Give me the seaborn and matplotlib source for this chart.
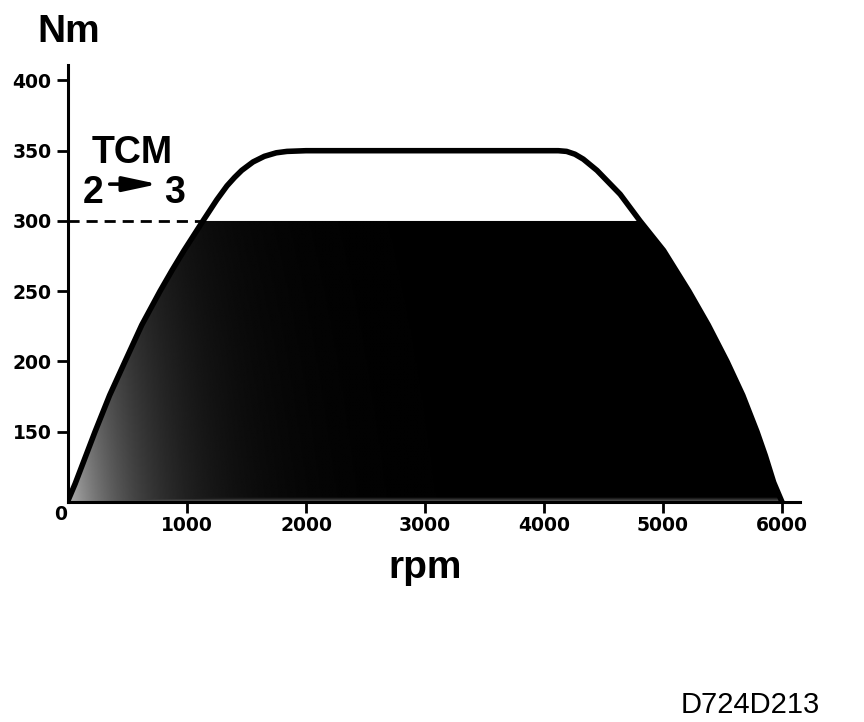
# Courbe de couple moteur (Nm / rpm) avec limitation TCM en 2e -> 3e

import numpy as np
import seaborn as sns
import matplotlib.pyplot as plt
from matplotlib.patches import FancyArrowPatch

# Valeurs
rpm = [0, 60, 227, 350, 479, 620, 773, 875, 975, 1134, 1250, 1336, 1400, 1460, 1555,
       1650, 1750, 1840, 2000, 3000, 4000, 4120, 4190, 4260, 4330, 4445, 4640, 4807,
       5005, 5218, 5380, 5538, 5670, 5790, 5860, 5930, 6000]
nm = [101, 113, 150, 176, 200, 226, 250, 265, 279, 300, 315, 325, 331, 336, 342,
      346, 348.5, 349.5, 350, 350, 350, 350, 349.5, 347.5, 344, 336, 319, 300,
      279, 250, 226, 200, 176, 150, 133, 114, 100]

tcm_limit = 300          # couple limite TCM (Nm)
tcm_limit_rpm = 1134     # régime où la courbe atteint la limite
x_ticks = [1000, 2000, 3000, 4000, 5000, 6000]
y_ticks = [150, 200, 250, 300, 350, 400]

sns.set_theme(style="white")
plt.rcParams['font.family'] = ['Liberation Sans', 'DejaVu Sans']
plt.rcParams['text.color'] = 'black'

fig = plt.figure(figsize=(8.64, 7.22), dpi=100)
ax = fig.add_axes([0.0787, 0.3047, 0.8472, 0.6053])

rpm_arr = np.array(rpm)
nm_arr = np.array(nm)
limited = np.minimum(nm_arr, tcm_limit)

# zone noire sous la limite
poly = ax.fill_between(rpm_arr, 100, limited, color='black', lw=0, zorder=1)

# trame grise : plus claire en bas à gauche et le long de l'axe
gx = np.linspace(0, 6000, 600)
gy = np.linspace(100, 300, 200)
GX, GY = np.meshgrid(gx, gy)
shade = 0.68 * np.exp(-GX / 600) * (1 - 0.5 * (GY - 100) / 200)
shade = np.maximum(shade, 0.35 * np.clip(1 - (GY - 100) / 3, 0, 1))
im = ax.imshow(shade, extent=(0, 6000, 100, 300), origin='lower', cmap='gray',
               vmin=0, vmax=1, aspect='auto', zorder=2, interpolation='bilinear')
im.set_clip_path(poly.get_paths()[0], transform=ax.transData)

# courbe de couple
sns.lineplot(x=rpm_arr, y=nm_arr, color='black', linewidth=4, ax=ax, zorder=4,
             solid_joinstyle='round', solid_capstyle='round')

# ligne de limitation en pointillés
ax.hlines(tcm_limit, 0, tcm_limit_rpm, colors='black', linestyles=(0, (4, 2.5)),
          linewidth=2, zorder=3)

ax.set_xlim(0, 6151)
ax.set_ylim(100, 411)
ax.set_xticks(x_ticks)
ax.set_yticks(y_ticks)
tick_font = dict(fontsize=13.5, fontweight='bold', family='DejaVu Sans', color='black')
ax.set_xticklabels([str(t) for t in x_ticks], **tick_font)
ax.set_yticklabels([str(t) for t in y_ticks], **tick_font)
ax.tick_params(axis='both', direction='out', length=8, width=2, color='black',
               left=True, bottom=True)
ax.tick_params(axis='x', pad=2)
ax.tick_params(axis='y', pad=4)
for side in ['top', 'right']:
    ax.spines[side].set_visible(False)
for side in ['left', 'bottom']:
    ax.spines[side].set_linewidth(2.2)
    ax.spines[side].set_color('black')
ax.set_xlabel('')
ax.set_ylabel('')
ax.grid(False)

# textes
fig.text(0.0706, 0.2798, '0', **tick_font, ha='center', va='baseline')
fig.text(0.080, 0.942, 'Nm', fontsize=28, fontweight='bold', ha='center', va='baseline')
fig.text(0.492, 0.199, 'rpm', fontsize=28, fontweight='bold', ha='center', va='baseline')
fig.text(0.153, 0.774, 'TCM', fontsize=27, fontweight='bold', ha='center', va='baseline')
fig.text(0.108, 0.719, '2', fontsize=27, fontweight='bold', ha='center', va='baseline')
fig.text(0.202, 0.719, '3', fontsize=27, fontweight='bold', ha='center', va='baseline')
fig.patches.append(FancyArrowPatch(
    (0.127, 0.745), (0.183, 0.745), transform=fig.transFigure,
    arrowstyle='-|>,head_length=0.75,head_width=0.16', mutation_scale=28,
    linewidth=2.6, color='black', shrinkA=0, shrinkB=0))
fig.text(0.949, 0.0125, 'D724D213', fontsize=21, ha='right', va='baseline')

fig.savefig('out.png', dpi=100)
